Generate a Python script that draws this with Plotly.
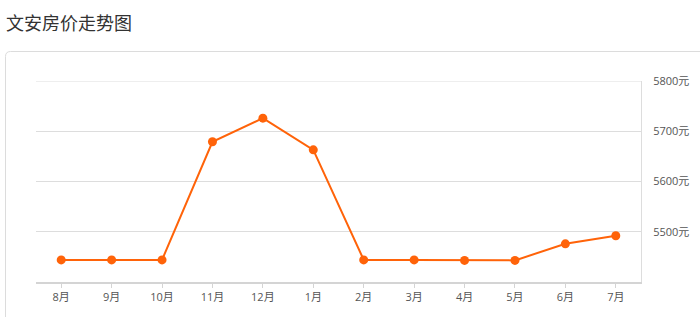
import plotly.graph_objects as go

months = ["8月", "9月", "10月", "11月", "12月", "1月", "2月", "3月", "4月", "5月", "6月", "7月"]
prices = [5444, 5444, 5444, 5679, 5726, 5663, 5444, 5444, 5443, 5443, 5476, 5492]
y_ticks = [5500, 5600, 5700, 5800]
title_text = "文安房价走势图"

W, H = 700, 317
L, R, T, B = 36, 59, 81, 35
pw, ph = W - L - R, H - T - B

def px_x(x):
    return (x - L) / pw

def px_y(y):
    return 1 - (y - T) / ph

fig = go.Figure()
fig.add_trace(go.Scatter(
    x=list(range(len(months))), y=prices, mode="lines+markers",
    line=dict(color="#ff6309", width=2),
    marker=dict(color="#ff6309", size=9),
    hoverinfo="skip",
))

x0, yt = px_x(5.5), px_y(51.5)
rx, ry = 5 / pw, 5 / ph
panel_path = (f"M {x0},{px_y(330)} L {x0},{yt - ry} Q {x0},{yt} {x0 + rx},{yt} "
              f"L {px_x(720)},{yt}")

fig.update_layout(
    width=W, height=H,
    margin=dict(l=L, r=R, t=T, b=B),
    paper_bgcolor="white", plot_bgcolor="white",
    showlegend=False,
    font=dict(family="Open Sans, Noto Sans CJK SC, sans-serif", color="#555", size=11),
    xaxis=dict(
        range=[-0.5, len(months) - 0.5],
        tickvals=list(range(len(months))), ticktext=months,
        showgrid=False, zeroline=False,
        showline=True, linecolor="#d4d4d4", linewidth=2,
        ticks="outside", ticklen=4, tickcolor="#d4d4d4",
        tickfont=dict(size=11, color="#555"),
        fixedrange=True,
    ),
    yaxis=dict(
        side="right", range=[5400, 5800],
        tickvals=y_ticks, ticktext=[f"{v}元" for v in y_ticks],
        showgrid=True, gridcolor="#dddddd", gridwidth=1,
        zeroline=False,
        showline=True, linecolor="#dddddd", linewidth=1,
        ticks="", ticklabelstandoff=9,
        tickfont=dict(size=11, color="#555"),
        fixedrange=True,
    ),
    shapes=[
        dict(type="path", path=panel_path, xref="paper", yref="paper",
             line=dict(color="#dcdcdc", width=1), layer="below"),
        dict(type="line", xref="paper", yref="y", x0=0, x1=1,
             y0=y_ticks[-1], y1=y_ticks[-1],
             line=dict(color="#dddddd", width=1), layer="below"),
    ],
    annotations=[dict(
        text=title_text, xref="paper", yref="paper",
        x=px_x(4), y=px_y(7), xanchor="left", yanchor="top",
        showarrow=False,
        font=dict(family="Noto Sans CJK SC, sans-serif", size=18, color="#333"),
    )],
)

fig.write_html("out.html")
